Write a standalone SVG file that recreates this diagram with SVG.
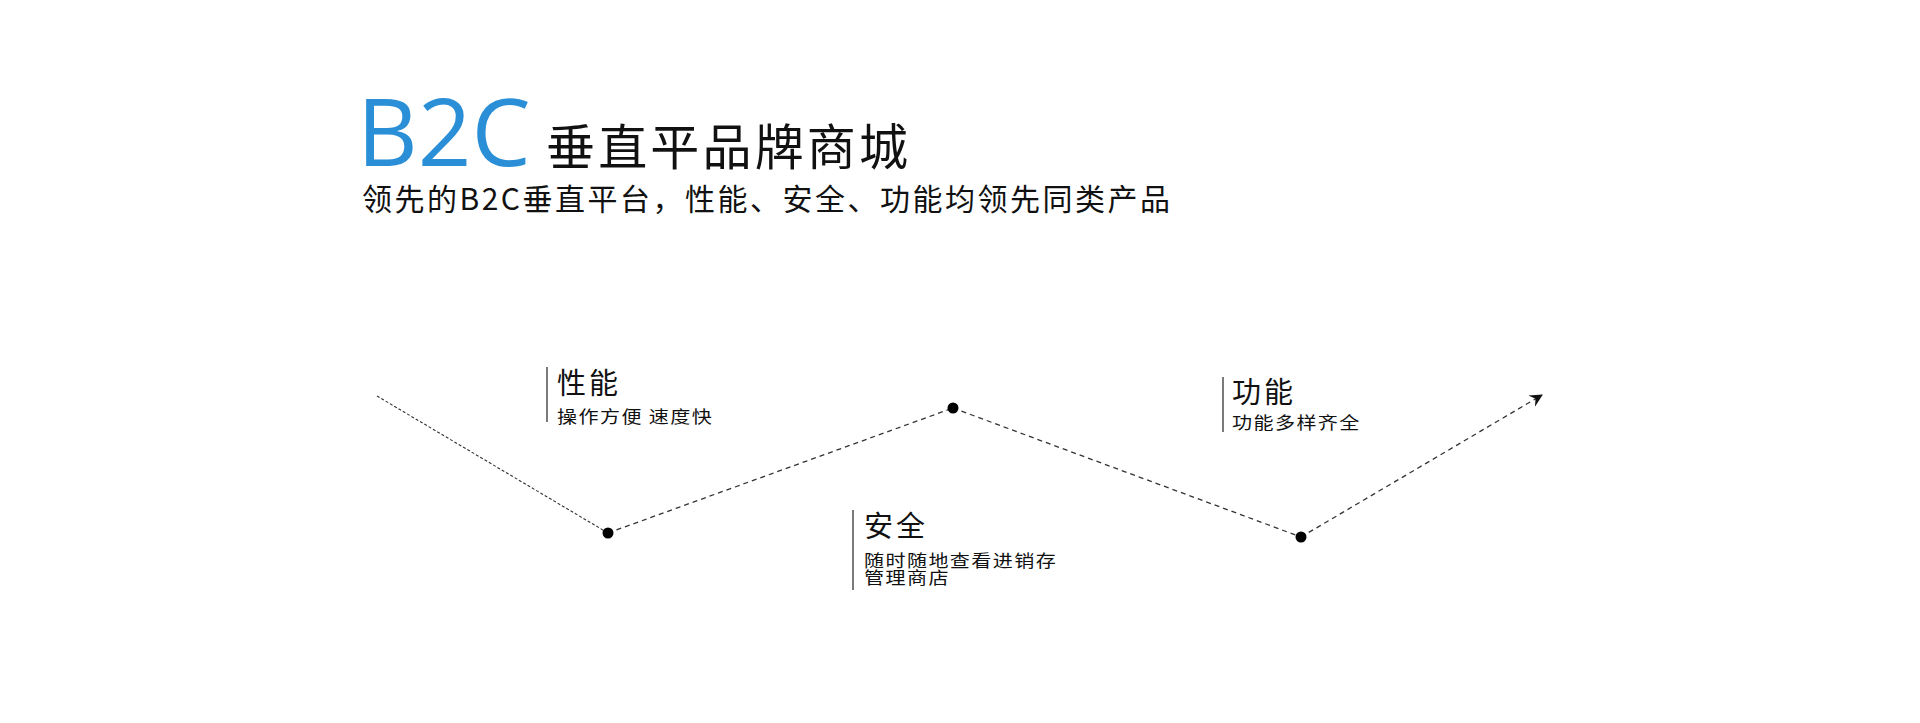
<svg xmlns="http://www.w3.org/2000/svg" width="1920" height="723" viewBox="0 0 1920 723">
  <style>
    .cjk { font-family: "Noto Sans CJK SC", "Noto Sans", sans-serif; fill: #111; }
    .head { font-size: 49px; }
    .sub { font-size: 30px; }
    .lt { font-size: 29px; letter-spacing: 3px; }
    .ls { font-size: 17px; letter-spacing: 1.2px; }
    .bar { stroke: #333; stroke-width: 1.3; }
    .seg { fill: none; stroke: #333; stroke-width: 1.3; stroke-dasharray: 5 4; }
    .seg-fine { fill: none; stroke: #333; stroke-width: 1.1; stroke-dasharray: 3 2; }
    .dot { fill: #000; }
  </style>
  <defs>
    <marker id="arrow" markerUnits="userSpaceOnUse" markerWidth="14" markerHeight="14" viewBox="0 0 14 14" refX="12" refY="7" orient="auto">
      <path d="M0,0.5 L13,7 L0,13.5 L4.5,7 Z" fill="#111"/>
    </marker>
  </defs>
  <rect width="1920" height="723" fill="#fff"/>

  <g id="title">
    <text x="357" y="166" font-family="Open Sans, Liberation Sans, sans-serif" font-size="94" fill="#2a8fd6">B2C</text>
    <text class="cjk head" x="546" y="165" textLength="362" lengthAdjust="spacing">垂直平品牌商城</text>
    <text class="cjk sub" x="362" y="210" textLength="808" lengthAdjust="spacing">领先的B2C垂直平台，性能、安全、功能均领先同类产品</text>
  </g>

  <g id="connectors">
    <line class="seg-fine" x1="377" y1="396" x2="608" y2="533"/>
    <line class="seg" x1="608" y1="533" x2="953" y2="408"/>
    <line class="seg" x1="953" y1="408" x2="1301" y2="537"/>
    <line class="seg" x1="1301" y1="537" x2="1542" y2="395" marker-end="url(#arrow)"/>
  </g>

  <g id="point-1"><circle class="dot" cx="608" cy="533" r="5.5"/></g>
  <g id="point-2"><circle class="dot" cx="953" cy="408" r="5.5"/></g>
  <g id="point-3"><circle class="dot" cx="1301" cy="537" r="5.5"/></g>

  <g id="label-performance">
    <line class="bar" x1="547" y1="367" x2="547" y2="422"/>
    <text class="cjk lt" x="557" y="394">性能</text>
    <text class="cjk ls" transform="translate(557,423) scale(1.18,1)">操作方便 速度快</text>
  </g>

  <g id="label-security">
    <line class="bar" x1="853" y1="510" x2="853" y2="590"/>
    <text class="cjk lt" x="864" y="537">安全</text>
    <text class="cjk ls" transform="translate(864,567) scale(1.18,1)">随时随地查看进销存</text>
    <text class="cjk ls" transform="translate(864,584) scale(1.18,1)">管理商店</text>
  </g>

  <g id="label-function">
    <line class="bar" x1="1223" y1="377" x2="1223" y2="432"/>
    <text class="cjk lt" x="1232" y="403">功能</text>
    <text class="cjk ls" transform="translate(1232,429) scale(1.18,1)">功能多样齐全</text>
  </g>
</svg>
